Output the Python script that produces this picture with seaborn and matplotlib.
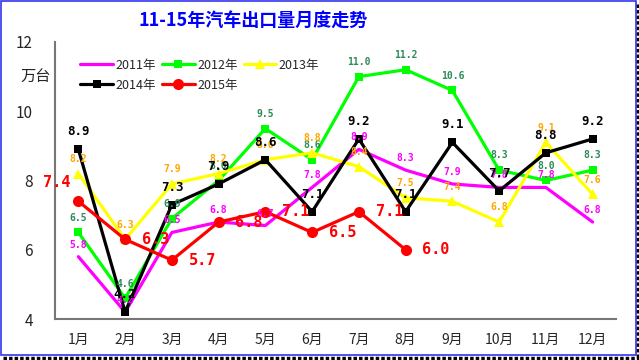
import numpy as np
import pandas as pd
import matplotlib
matplotlib.use("Agg")
import matplotlib.pyplot as plt
from matplotlib.patches import Rectangle
from matplotlib.lines import Line2D
import seaborn as sns

# ==========================================================
# Data (万台)
# ==========================================================
months = ["1月", "2月", "3月", "4月", "5月", "6月", "7月", "8月", "9月", "10月", "11月", "12月"]
y2011 = [5.8, 4.2, 6.5, 6.8, 6.7, 7.8, 8.9, 8.3, 7.9, 7.8, 7.8, 6.8]
y2012 = [6.5, 4.6, 6.9, 8.0, 9.5, 8.6, 11.0, 11.2, 10.6, 8.3, 8.0, 8.3]
y2013 = [8.2, 6.3, 7.9, 8.2, 8.6, 8.8, 8.4, 7.5, 7.4, 6.8, 9.1, 7.6]
y2014 = [8.9, 4.2, 7.3, 7.9, 8.6, 7.1, 9.2, 7.1, 9.1, 7.7, 8.8, 9.2]
y2015 = [7.4, 6.3, 5.7, 6.8, 7.1, 6.5, 7.1, 6.0]
series_names = ["2011年", "2012年", "2013年", "2014年", "2015年"]

sns.set_style("white")
plt.rcParams["font.family"] = ["Noto Sans CJK SC", "DejaVu Sans"]

W, H = 639, 360
fig = plt.figure(figsize=(W / 100, H / 100), dpi=100)

# frame: blue border with dotted dark shadow on right and bottom
fig.patches.append(Rectangle((0.5 / W, 1 - 355 / H), 635 / W, 354 / H, transform=fig.transFigure,
                             facecolor="white", edgecolor="#3333EE", linewidth=1.2, zorder=-2))
fig.lines.append(Line2D([637.5 / W, 637.5 / W], [1 - 4 / H, 1 - 358 / H], transform=fig.transFigure,
                        color="black", linewidth=2.5, linestyle=(0, (1, 0.6))))
fig.lines.append(Line2D([3 / W, 639 / W], [1 - 357.5 / H, 1 - 357.5 / H], transform=fig.transFigure,
                        color="black", linewidth=2.5, linestyle=(0, (1, 0.6))))

ax = fig.add_axes([55 / W, 1 - 319 / H, 561 / W, 277 / H])

# line colour, marker, marker size, label colour, label font size, label offset
styles = [
    ("#FF00FF", None, 0, "#FF00FF", 7, (0, 5)),
    ("#00FF00", "s", 6, "#2E8B57", 7, (0, 7)),
    ("#FFFF00", "^", 7, "#FFA500", 7, (0, 7)),
    ("#000000", "s", 6, "#000000", 9, (0, 8)),
    ("#FF0000", "o", 8, "#FF0000", 11, (12, 0)),
]
all_vals = [y2011, y2012, y2013, y2014, y2015]

frames = []
for name, vals in zip(series_names, all_vals):
    frames.append(pd.DataFrame({"x": np.arange(len(vals)), "y": vals, "year": name}))
df = pd.concat(frames)

for (name, vals), (col, mk, ms, lc, fs, off) in zip(zip(series_names, all_vals), styles):
    sub = df[df["year"] == name]
    sns.lineplot(data=sub, x="x", y="y", ax=ax, color=col, linewidth=2.3,
                 marker=mk if mk else "", markersize=ms, markeredgewidth=0,
                 label=name, legend=False)
    for i, v in enumerate(vals):
        o = off
        ha = "center" if o[0] == 0 else "left"
        va = "bottom" if o[0] == 0 else "center"
        if name == "2015年" and i == 0:
            o, ha, va = (-6, 8), "right", "bottom"
        ax.annotate(f"{v:.1f}", (i, v), xytext=o, textcoords="offset points",
                    ha=ha, va=va, color=lc, fontsize=fs, fontweight="bold",
                    family=["DejaVu Sans Mono"])

ax.set_xlim(-0.5, 11.5)
ax.set_ylim(4, 12)
ax.set_xticks(np.arange(12))
ax.set_xticklabels(months, fontsize=10)
ax.set_xticks(np.arange(-0.5, 12, 1), minor=True)
ax.tick_params(axis="x", which="major", length=0, pad=10)
ax.tick_params(axis="x", which="minor", length=4, direction="in", color="#555555")
ax.set_yticks([4, 6, 8, 10, 12])
ax.tick_params(axis="y", length=4, direction="in", color="#555555", labelsize=11, pad=16)
ax.set_xlabel("")
ax.set_ylabel("")
for s in ["top", "right"]:
    ax.spines[s].set_visible(False)
for s in ["left", "bottom"]:
    ax.spines[s].set_color("#777777")
    ax.spines[s].set_linewidth(1.5)
ax.set_facecolor("none")

fig.text(36 / W, 1 - 77 / H, "万台", ha="center", va="center", fontsize=11)
fig.text(253 / W, 1 - 20 / H, "11-15年汽车出口量月度走势", ha="center", va="center",
         fontsize=13, fontweight="bold", color="#0000FF")

handles, labels = ax.get_legend_handles_labels()
order = [0, 3, 1, 4, 2]
ax.legend([handles[i] for i in order], [labels[i] for i in order],
          ncol=3, loc="upper left", bbox_to_anchor=(0.025, 0.98), frameon=False,
          fontsize=9, handlelength=2.6, columnspacing=0.5, handletextpad=0.2,
          labelspacing=0.55)

plt.savefig("out.png", dpi=100)
